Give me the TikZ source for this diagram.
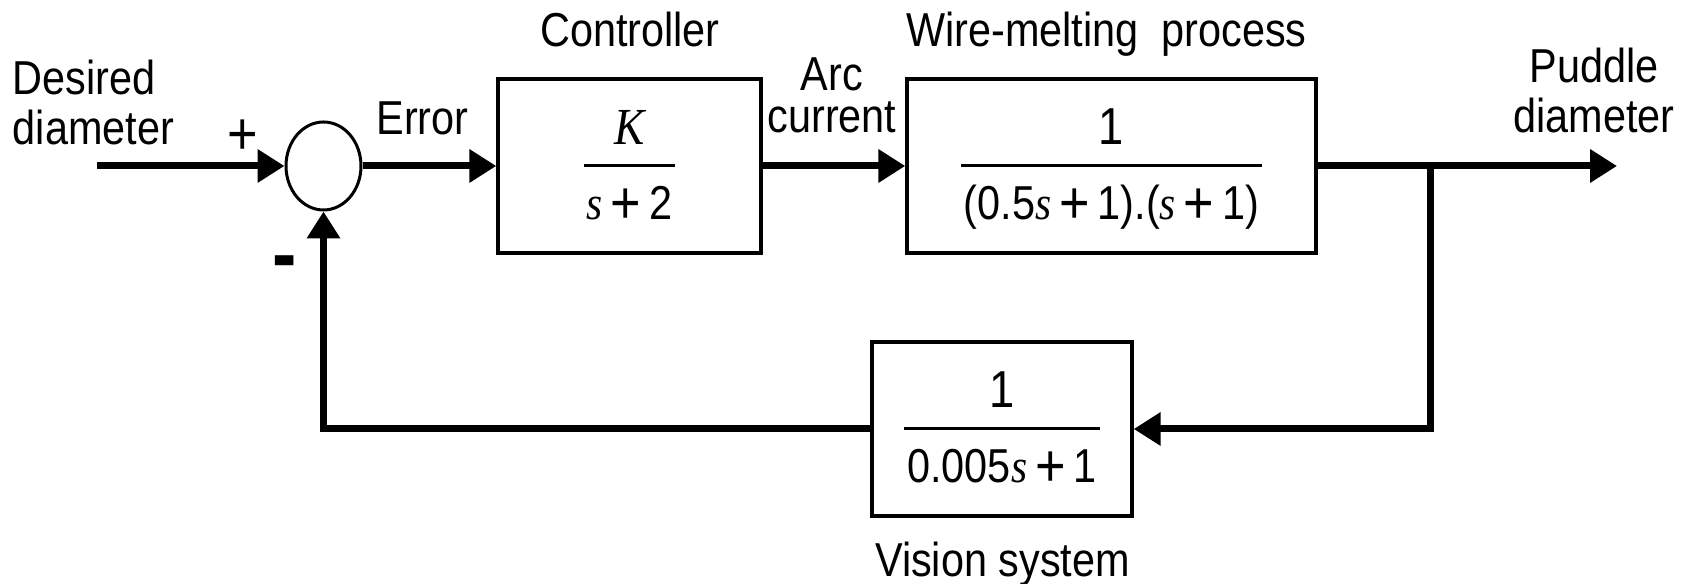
\documentclass[tikz,border=0pt]{standalone}
\usepackage{fontspec}
\setmainfont{Liberation Sans}[FakeStretch=0.87]
\newfontfamily\varfont{Liberation Serif}[FakeStretch=0.87]
\usetikzlibrary{positioning,shapes.geometric,arrows.meta}

% italic variable, wide plus and a tall block fraction
\newcommand{\sv}{{\varfont\itshape s}}
\newcommand{\pl}{\kern2pt\raisebox{-1pt}{\fontsize{15}{15}\selectfont+}\kern2pt}
\newcommand{\blockfrac}[2]{%
  \setbox0=\hbox{#2}%
  \vbox{\offinterlineskip
    \kern 8.25pt
    \hbox to \dimexpr\wd0+1.5pt\relax{\hfil\smash{#1}\hfil}%
    \kern 4.875pt
    \hrule height 0.75pt
    \kern 13.125pt
    \hbox to \dimexpr\wd0+1.5pt\relax{\hfil\smash{#2}\hfil}}}
\newcommand{\lblfont}{\fontsize{11.9}{12.5}\selectfont}

\tikzset{
  block/.style={draw, rectangle, line width=0.85pt, minimum height=43.5pt, inner sep=0pt, font=\lblfont},
  sumjunc/.style={draw, ellipse, line width=0.75pt, minimum width=18.75pt, minimum height=22pt, inner sep=0pt},
  signal/.style={line width=1.75pt, -{Triangle[length=6.75pt,width=8pt]}},
  lbl/.style={inner sep=0pt, font=\lblfont},
}

\begin{document}
\begin{tikzpicture}[x=0.25pt, y=-0.25pt]
  \useasboundingbox (0,0) rectangle (1681,584);

  % blocks
  \node[sumjunc] (sum) at (323.5,166) {};
  \node[block, minimum width=65.75pt] (ctrl) at (629.5,166)
    {\blockfrac{{\fontsize{13}{13}\varfont\itshape K}}{\sv\pl 2}};
  \node[block, minimum width=102.25pt] (proc) at (1111.5,166)
    {\blockfrac{{\fontsize{13}{13}\selectfont 1}}{(0.5\sv\pl 1).(\sv\pl 1)}};
  \node[block, minimum width=65pt] (vis) at (1002,429)
    {\blockfrac{{\fontsize{13}{13}\selectfont 1}}{0.005\sv\pl 1}};

  \coordinate (in) at (97,166);
  \coordinate (jn) at (1430,166);
  \coordinate (out) at (1617,166);

  % signals
  \draw[signal] (in) -- (sum.west);
  \draw[signal] (sum.east) -- (ctrl.west);
  \draw[signal] (ctrl.east) -- (proc.west);
  \draw[signal] (proc.east) -- (out);
  \draw[signal] (jn) |- (vis.east);
  \draw[signal] (vis.west) -| (sum.south);

  % labels (base of a two-line node is its last line)
  \node[lbl, anchor=base west, align=left] (desired) at (12,145) {Desired\\diameter};
  \node[lbl, anchor=base, font=\fontsize{15}{15}\selectfont] (plus) at (243,155) {+};
  \node[lbl, anchor=base, font=\fontsize{21}{21}\selectfont\bfseries] (minus) at (285,283) {-};
  \node[lbl, anchor=base] (err) at (422.5,135) {Error};
  \node[lbl, anchor=base] (ctrltxt) at (630,47) {Controller};
  \node[lbl, anchor=base, align=center, font=\fontsize{11.9}{10.5}\selectfont] (arc) at (832,133) {Arc\\current};
  \node[lbl, anchor=base] (proctxt) at (1106.5,47) {Wire-melting\ \ process};
  \node[lbl, anchor=base, align=center] (puddle) at (1594,133) {Puddle\\diameter};
  \node[lbl, anchor=base] (vistxt) at (1002.5,577) {Vision system};
\end{tikzpicture}
\end{document}
